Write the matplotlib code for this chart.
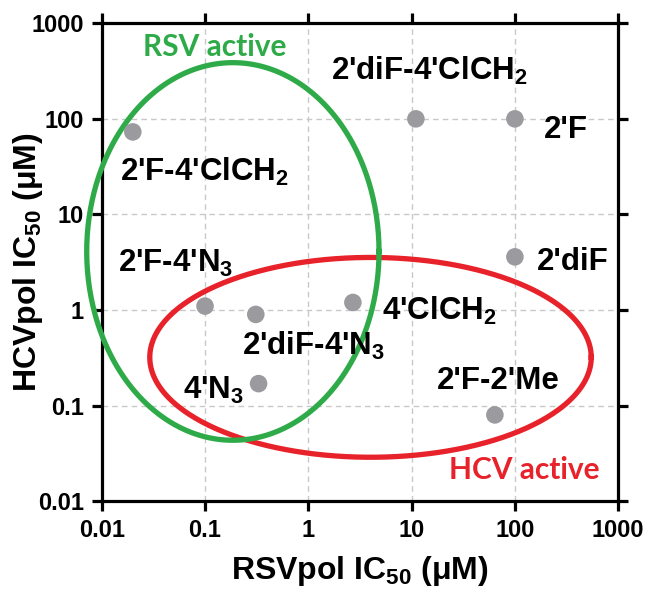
import numpy as np
import matplotlib
matplotlib.use('Agg')
import matplotlib.pyplot as plt

# Compound data (uM)
compounds = ["2'F-4'ClCH$_2$", "2'diF-4'ClCH$_2$", "2'F", "2'diF", "4'ClCH$_2$",
             "2'F-4'N$_3$", "2'diF-4'N$_3$", "4'N$_3$", "2'F-2'Me"]
rsv_ic50 = [0.02, 11, 100, 100, 2.7, 0.1, 0.31, 0.33, 64]
hcv_ic50 = [73, 100, 100, 3.6, 1.2, 1.1, 0.9, 0.17, 0.08]

# Where each label sits (left edge, vertical centre), data coords
label_x = [0.0149, 1.66, 192, 164, 5.2, 0.0143, 0.227, 0.061, 17.6]
label_y = [28, 320, 76, 3.16, 0.97, 3.1, 0.42, 0.145, 0.18]

# Activity regions: ellipse centre and half-axes in decades
rsv_region = dict(cx=0.186, cy=4.1, ax=1.415, ay=1.975)
hcv_region = dict(cx=4.0, cy=0.32, ax=2.137, ay=1.045)

ticks = [0.01, 0.1, 1, 10, 100, 1000]
tick_labels = ['0.01', '0.1', '1', '10', '100', '1000']

plt.rcParams['font.family'] = 'Liberation Sans'
plt.rcParams['font.weight'] = 'bold'
plt.rcParams['mathtext.fontset'] = 'custom'
plt.rcParams['mathtext.rm'] = 'Liberation Sans:bold'
plt.rcParams['mathtext.default'] = 'rm'

fig = plt.figure(figsize=(6.48, 5.96), dpi=100)
ax = fig.add_axes([0.157, 0.159, 0.797, 0.802])
ax.set_xscale('log')
ax.set_yscale('log')
ax.set_xlim(0.01, 1000)
ax.set_ylim(0.01, 1000)

# Grid
ax.grid(True, which='major', linestyle=(0, (4, 3)), color='#c8c8c8', linewidth=1, zorder=0)
ax.minorticks_off()

# Spines and ticks on all sides
for s in ax.spines.values():
    s.set_linewidth(2.3)
    s.set_color('black')
ax.tick_params(which='major', direction='out', length=7, width=2.3, color='black',
               top=True, right=True, labelsize=17, pad=6)
ax.set_xticks(ticks)
ax.set_xticklabels(tick_labels)
ax.set_yticks(ticks)
ax.set_yticklabels(tick_labels)

# Ellipses (drawn in log space)
t = np.linspace(0, 2 * np.pi, 400)
def draw_region(reg, color, z):
    xs = 10 ** (np.log10(reg['cx']) + reg['ax'] * np.cos(t))
    ys = 10 ** (np.log10(reg['cy']) + reg['ay'] * np.sin(t))
    ax.plot(xs, ys, color=color, linewidth=3.8, clip_on=False, zorder=z)

draw_region(hcv_region, '#e8222a', 3)
draw_region(rsv_region, '#2eab48', 4)

# Points
ax.scatter(rsv_ic50, hcv_ic50, s=160, color='#9a9a9f', edgecolors='none', zorder=5)

# Labels
for name, lx, ly in zip(compounds, label_x, label_y):
    ax.text(lx, ly, name, fontsize=22.5, fontweight='bold', ha='left', va='center', zorder=6)

ax.text(0.025, 571, 'RSV active', color='#2eab48', fontsize=21.5, fontweight='bold',
        family='Lato', ha='left', va='center', zorder=6)
ax.text(23, 0.021, 'HCV active', color='#e8222a', fontsize=21.5, fontweight='bold',
        family='Lato', ha='left', va='center', zorder=6)

ax.set_xlabel('RSVpol IC$_{50}$ (\u03bcM)', fontsize=23, fontweight='bold')
ax.set_ylabel('HCVpol IC$_{50}$ (\u03bcM)', fontsize=23, fontweight='bold')
ax.xaxis.set_label_coords(0.5, -0.11)
ax.yaxis.set_label_coords(-0.11, 0.5)

fig.savefig('out.png', dpi=100)
